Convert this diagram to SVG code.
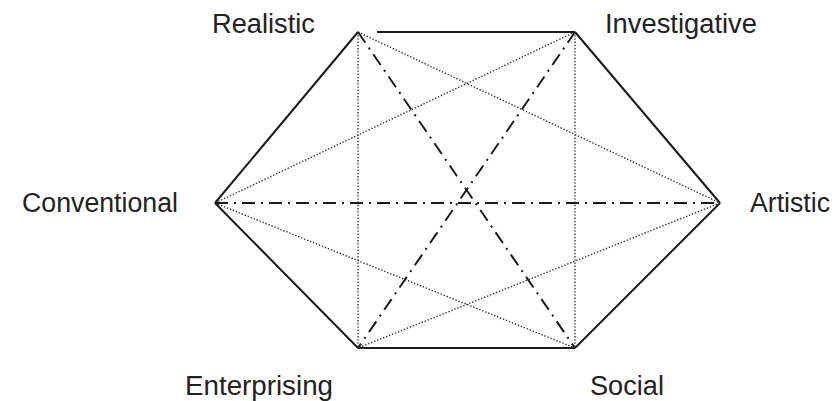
<svg xmlns="http://www.w3.org/2000/svg" width="836" height="401" viewBox="0 0 836 401">
<style>
.lbl{font-family:"Liberation Sans",Arial,sans-serif;font-size:27px;fill:#222}
.solid{stroke:#1a1a1a;stroke-width:2;fill:none}
.dot{stroke:#333;stroke-width:1.4;stroke-dasharray:1.4 1.8;fill:none}
.dashdot{stroke:#1a1a1a;stroke-width:2;stroke-dasharray:13 6 2 6;fill:none}
</style>
<rect width="836" height="401" fill="#fff"/>
<g id="connectors">
<line class="solid" x1="377" y1="32" x2="575" y2="32"/>
<line class="solid" x1="575" y1="32" x2="720" y2="203"/>
<line class="solid" x1="720" y1="203" x2="575" y2="348"/>
<line class="solid" x1="575" y1="348" x2="358" y2="348"/>
<line class="solid" x1="358" y1="348" x2="215" y2="203"/>
<line class="solid" x1="215" y1="203" x2="358" y2="32"/>
<line class="dot" x1="358" y1="32" x2="358" y2="348"/>
<line class="dot" x1="575" y1="32" x2="575" y2="348"/>
<line class="dot" x1="358" y1="32" x2="720" y2="203"/>
<line class="dot" x1="575" y1="32" x2="215" y2="203"/>
<line class="dot" x1="215" y1="203" x2="575" y2="348"/>
<line class="dot" x1="720" y1="203" x2="358" y2="348"/>
<line class="dashdot" x1="358" y1="32" x2="575" y2="348"/>
<line class="dashdot" x1="575" y1="32" x2="358" y2="348"/>
<line class="dashdot" x1="215" y1="203" x2="720" y2="203"/>
</g>
<g id="realistic"><text class="lbl" x="212" y="33" textLength="103" lengthAdjust="spacingAndGlyphs">Realistic</text></g>
<g id="investigative"><text class="lbl" x="605" y="33" textLength="152" lengthAdjust="spacingAndGlyphs">Investigative</text></g>
<g id="conventional"><text class="lbl" x="22" y="212" textLength="156" lengthAdjust="spacingAndGlyphs">Conventional</text></g>
<g id="artistic"><text class="lbl" x="750" y="212" textLength="80" lengthAdjust="spacingAndGlyphs">Artistic</text></g>
<g id="enterprising"><text class="lbl" x="185" y="395" textLength="148" lengthAdjust="spacingAndGlyphs">Enterprising</text></g>
<g id="social"><text class="lbl" x="590" y="395" textLength="74" lengthAdjust="spacingAndGlyphs">Social</text></g>
</svg>
